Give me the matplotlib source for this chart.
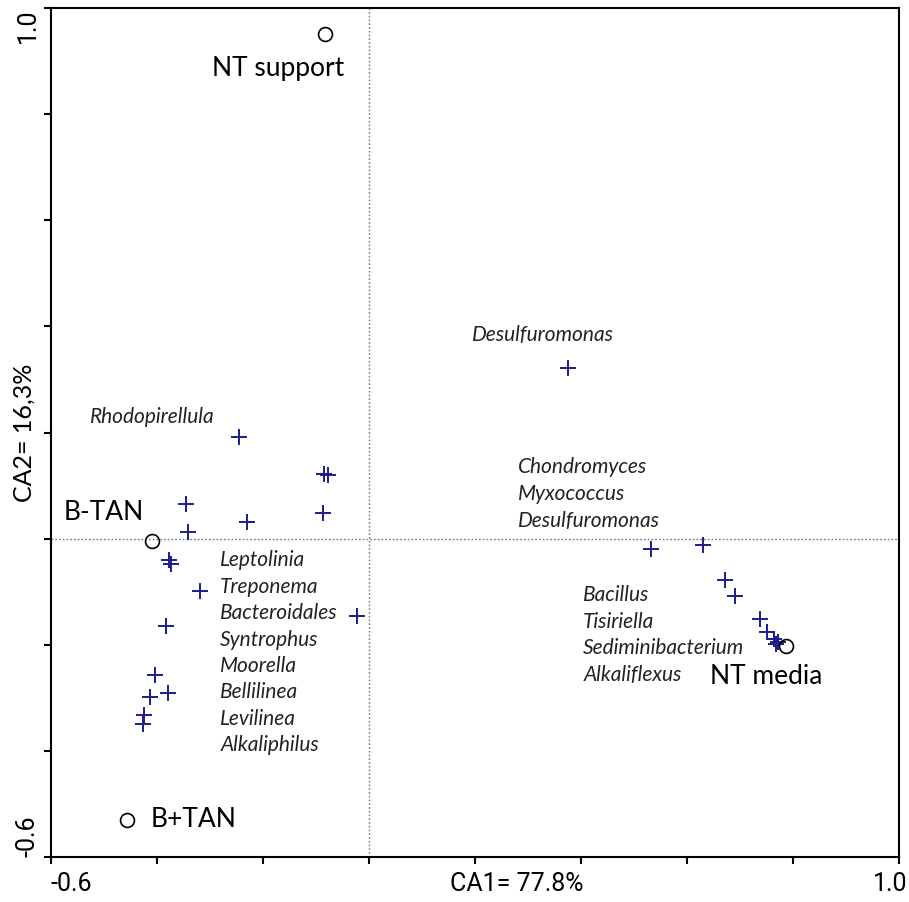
import numpy as np
import matplotlib.pyplot as plt

# ==================================================
# DATA (CA scores)
# ==================================================

site_names = ["NT support", "B-TAN", "B+TAN", "NT media"]
site_x = [-0.082, -0.409, -0.456, 0.788]
site_y = [0.951, -0.005, -0.531, -0.203]

species_x = [-0.245, -0.085, -0.076, -0.087, -0.345, -0.230, -0.340,
             -0.376, -0.373, -0.319, -0.022, -0.382, -0.404, -0.378,
             -0.412, -0.424, -0.425,
             0.377, 0.533, 0.630, 0.673, 0.691, 0.739, 0.751, 0.764,
             0.773, 0.769]
species_y = [0.191, 0.121, 0.119, 0.049, 0.066, 0.031, 0.012,
             -0.040, -0.048, -0.099, -0.146, -0.164, -0.258, -0.292,
             -0.298, -0.333, -0.350,
             0.321, -0.020, -0.013, -0.079, -0.109, -0.152, -0.176, -0.189,
             -0.195, -0.198]

# species label groups
group_top = ["Desulfuromonas"]
group_rhodo = ["Rhodopirellula"]
group_myxo = ["Chondromyces", "Myxococcus", "Desulfuromonas"]
group_left = ["Leptolinia", "Treponema", "Bacteroidales", "Syntrophus",
              "Moorella", "Bellilinea", "Levilinea", "Alkaliphilus"]
group_right = ["Bacillus", "Tisiriella", "Sediminibacterium", "Alkaliflexus"]

xlabel = "CA1= 77.8%"
ylabel = "CA2= 16,3%"

# ==================================================
# FIGURE
# ==================================================

plt.rcParams['font.family'] = ['Lato', 'DejaVu Sans']

fig = plt.figure(figsize=(9.09, 9.02), dpi=100)
ax = fig.add_axes([0.0557, 0.0502, 0.9329, 0.9406])

ax.set_xlim(-0.6, 1.0)
ax.set_ylim(-0.6, 1.0)

ax.axvline(0, color="#777777", lw=1.0, ls=(0, (1.2, 1.5)), zorder=1)
ax.axhline(0, color="#777777", lw=1.0, ls=(0, (1.2, 1.5)), zorder=1)

ax.plot(species_x, species_y, linestyle="none", marker="+",
        markersize=12, markeredgewidth=1.4, color="#1c1c8c", zorder=3)
ax.plot(site_x, site_y, linestyle="none", marker="o",
        markersize=10, markerfacecolor="none", markeredgewidth=1.2,
        markeredgecolor="black", zorder=4)

# site labels
site_lab_pos = [(-0.295, 0.887), (-0.575, 0.050), (-0.412, -0.530), (0.644, -0.260)]
for name, (tx, ty) in zip(site_names, site_lab_pos):
    ax.text(tx, ty, name, fontsize=19, ha="left", va="center")

# species labels
def put_group(names, x0, y0, step=0.050):
    for i, n in enumerate(names):
        ax.text(x0, y0 - i * step, n, fontsize=15, style="italic",
                ha="left", va="center", color="#222222")

put_group(group_top, 0.195, 0.384)
put_group(group_rhodo, -0.526, 0.229)
put_group(group_myxo, 0.282, 0.135, 0.051)
put_group(group_left, -0.280, -0.041, 0.0498)
put_group(group_right, 0.405, -0.107, 0.050)

# axes styling
for s in ax.spines.values():
    s.set_linewidth(1.5)
ax.set_xticks(np.arange(-0.6, 1.01, 0.2))
ax.set_yticks(np.arange(-0.6, 1.01, 0.2))
ax.set_xticklabels([])
ax.set_yticklabels([])
ax.tick_params(direction="out", length=5, width=1.5)

tick_font = ['Liberation Sans Narrow', 'Roboto', 'DejaVu Sans']
ax.text(0.0, -0.018, "-0.6", transform=ax.transAxes, fontsize=18,
        ha="left", va="top", family=tick_font)
ax.text(1.01, -0.018, "1.0", transform=ax.transAxes, fontsize=18,
        ha="right", va="top", family=tick_font)
ax.text(-0.013, 1.0, "1.0", transform=ax.transAxes, fontsize=18,
        ha="right", va="top", rotation=90, family=tick_font)
ax.text(-0.013, 0.0, "-0.6", transform=ax.transAxes, fontsize=18,
        ha="right", va="bottom", rotation=90, family=tick_font)

ax.text(0.55, -0.018, xlabel, transform=ax.transAxes, fontsize=18,
        ha="center", va="top", family=tick_font)
ax.text(-0.018, 0.50, ylabel, transform=ax.transAxes, fontsize=18,
        ha="right", va="center", rotation=90)

plt.savefig("out.png", dpi=100, facecolor="white")
